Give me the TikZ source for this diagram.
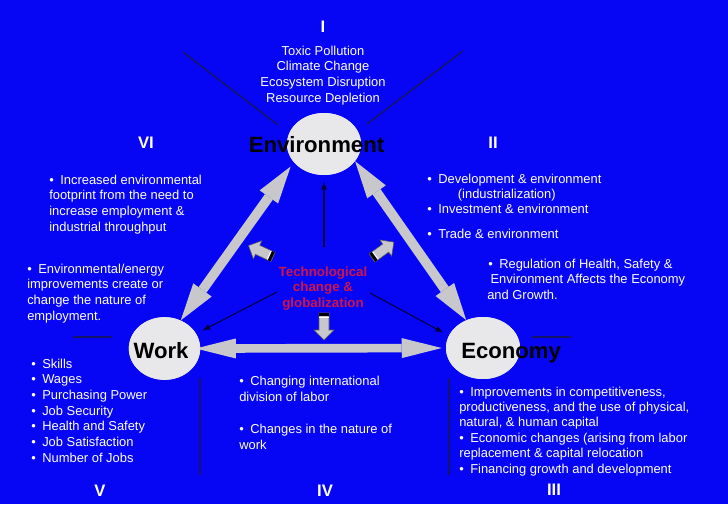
\documentclass[tikz,border=0pt]{standalone}
\usepackage{fontspec}
\setmainfont{Liberation Sans}
\usetikzlibrary{arrows.meta,shapes.geometric,calc}
\definecolor{bg}{RGB}{6,6,245}
\definecolor{navy}{RGB}{20,20,105}
\definecolor{arrgrey}{RGB}{200,200,204}
\definecolor{ellfill}{RGB}{232,232,234}
\definecolor{techred}{RGB}{205,20,75}
\definecolor{thinline}{RGB}{0,0,60}
\newcommand{\bl}{•\hspace{0.5em}}
\begin{document}
\begin{tikzpicture}[x=0.75pt,y=-0.75pt,
  body/.style={text=white, font=\fontsize{9.7pt}{11.8pt}\selectfont, align=left, inner sep=0pt, anchor=base west},
  numeral/.style={text=white, font=\fontsize{12.5pt}{14pt}\bfseries\selectfont, inner sep=0pt, anchor=base},
  ell/.style={ellipse, fill=ellfill, minimum width=55.5pt, minimum height=46.5pt, inner sep=0pt},
  elltext/.style={text=black, font=\fontsize{16.6pt}{18pt}\bfseries\selectfont, inner sep=0pt},
  divider/.style={draw=navy, line width=1.1pt},
  bigarr/.style={draw=arrgrey, line width=6.5pt,
    {Triangle[length=30pt,width=15pt,line width=0pt]}-{Triangle[length=30pt,width=15pt,line width=0pt]}},
  diagarr/.style={draw=arrgrey, line width=7.2pt,
    {Triangle[length=28pt,width=17pt,line width=0pt]}-{Triangle[length=28pt,width=17pt,line width=0pt]}},
  thinarr/.style={draw=thinline, line width=0.8pt, -{Latex[length=6pt,width=4.5pt]}},
  blockarrow/.pic={
    \filldraw[fill=arrgrey, draw=gray!70!black, line width=0.4pt]
      (0,-5) -- (17,-5) -- (17,-10) -- (27,0) -- (17,10) -- (17,5) -- (0,5) -- cycle;
    \fill[black] (0.4,-5) rectangle (3.4,5);
    \draw[white, line width=0.6pt] (4.3,-4.6) -- (4.3,4.6);
  }]
\fill[bg] (0,0) rectangle (728,504);
\useasboundingbox (0,0) rectangle (728,504);

% dividers
\draw[divider] (183,52) -- (278,125);
\draw[divider] (463,51) -- (367,124);
\draw[divider] (73,337) -- (112,337);
\draw[divider] (200,378) -- (200,475);
\draw[divider] (449,378) -- (449,475);
\draw[divider] (532,337) -- (571,337);

% ellipses
\node[ell] (env) at (324,144) {};
\node[ell, minimum width=53.5pt, minimum height=47pt] (work) at (164.5,348.5) {};
\node[ell] (econ) at (483,348) {};

% big arrows
\draw[diagarr, shorten >=4pt] (work.60) -- (env.211);
\draw[diagarr] (env.-29) -- (econ.121);
\draw[bigarr, shorten <=-3.5pt, shorten >=3pt] (work.0) -- (econ.180);

% redraw ellipses on top
\node[ell] (env2) at (324,144) {};
\node[ell, minimum width=53.5pt, minimum height=47pt] (work2) at (164.5,348.5) {};
\node[ell] (econ2) at (483,348) {};

% ellipse labels
\node[elltext, anchor=base] (envt) at (316.5,152) {Environment};
\node[elltext, anchor=base] (workt) at (161,358.5) {Work};
\node[elltext, anchor=base west] (econt) at (461,358) {Economy};

% numerals
\node[numeral] (n1) at (323,32) {I};
\node[numeral] (n6) at (146,148) {VI};
\node[numeral] (n2) at (493,148) {II};
\node[numeral] (n5) at (100,496) {V};
\node[numeral] (n4) at (325,496) {IV};
\node[numeral] (n3) at (554,495) {III};

% texts (anchored at the baseline of their last line)
\node[body, align=center, anchor=base] (impacts) at (323,102.2) {Toxic Pollution\\Climate Change\\Ecosystem Disruption\\Resource Depletion};
\node[body] (incr) at (49,231.2) {\bl Increased environmental\\footprint from the need to\\increase employment \&\\industrial throughput};
\node[body] (envimp) at (27,320.2) {\bl Environmental/energy\\improvements create or\\change the nature of\\employment.};
\node[body, font=\fontsize{9.7pt}{11.4pt}\selectfont] (dev) at (427,213.4) {\bl Development \& environment\\\hspace*{23pt}(industrialization)\\\bl Investment \& environment};
\node[body] (trade) at (427,238) {\bl Trade \& environment};
\node[body] (reg) at (487,299.5) {\hspace*{0.75pt}\bl Regulation of Health, Safety \&\\\hspace*{2.5pt}Environment Affects the Economy\\and Growth.};
\node[body, font=\fontsize{9.7pt}{11.75pt}\selectfont] (factors) at (31,462) {\bl Skills\\\bl Wages\\\bl Purchasing Power\\\bl Job Security\\\bl Health and Safety\\\bl Job Satisfaction\\\bl Number of Jobs};
\node[body] (div) at (239,401.7) {\bl Changing international\\division of labor};
\node[body] (nat) at (239,449.7) {\bl Changes in the nature of\\work};
\node[body, font=\fontsize{9.7pt}{11.55pt}\selectfont] (econimp) at (459,473) {\bl Improvements in competitiveness,\\productiveness, and the use of physical,\\natural, \& human capital\\\bl Economic changes (arising from labor\\replacement \& capital relocation\\\bl Financing growth and development};

% technology
\node[text=techred, font=\fontsize{10pt}{11.6pt}\bfseries\selectfont, align=center, anchor=base, inner sep=0pt] (tech) at (323,307) {Technological\\change \&\\globalization};
\coordinate (tUp) at (324,247);
\coordinate (tL) at (277,292);
\coordinate (tR) at (370,293);
\draw[thinarr, shorten >=4.5pt] (tUp) -- (env.south);
\draw[thinarr, shorten >=5pt] (tL) -- (work.25);
\draw[thinarr, shorten >=4.5pt] (tR) -- (econ.160);

% small block arrows
\pic[rotate=155] (baL) at (273,257) {blockarrow};
\pic[rotate=36] (baR) at (372,258) {blockarrow};
\pic[rotate=-90] (baD) at (324,313) {blockarrow};
\end{tikzpicture}
\end{document}
